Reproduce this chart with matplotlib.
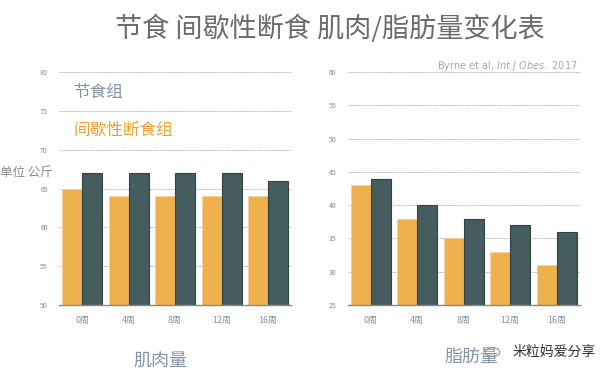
import matplotlib.pyplot as plt
import numpy as np

plt.rcParams['font.family'] = ['Noto Sans CJK SC', 'DejaVu Sans']

# data
weeks = ["0周", "4周", "8周", "12周", "16周"]
muscle_if = [65, 64, 64, 64, 64]      # 间歇性断食组
muscle_diet = [67, 67, 67, 67, 66]    # 节食组
fat_if = [43, 38, 35, 33, 31]
fat_diet = [44, 40, 38, 37, 36]

orange = "#EFB04E"
dark = "#455D5E"
tick_gray = "#8a8a8a"

fig = plt.figure(figsize=(6.11, 3.79), dpi=100)

def draw(ax, a, b, ylim, step):
    x = np.arange(len(weeks))
    w = 0.43
    ax.bar(x - w / 2, a, w, color=orange, edgecolor="#F5CFA0", linewidth=0.6, zorder=3)
    ax.bar(x + w / 2, b, w, color=dark, edgecolor="#2E4444", linewidth=0.8, zorder=3)
    ax.set_xlim(-0.5, len(weeks) - 0.5)
    ax.set_ylim(*ylim)
    ax.set_yticks(np.arange(ylim[0], ylim[1] + 1, step))
    ax.set_xticks(x)
    ax.set_xticklabels(weeks)
    ax.grid(axis="y", linestyle=(0, (1, 1.2)), color="#777777", linewidth=0.5, zorder=0)
    for s in ["top", "right", "left"]:
        ax.spines[s].set_visible(False)
    ax.spines["bottom"].set_color("#888888")
    ax.spines["bottom"].set_linewidth(1.0)
    ax.spines["bottom"].set_zorder(4)
    ax.tick_params(axis="y", length=0, labelsize=5, labelcolor=tick_gray, pad=8)
    ax.tick_params(axis="x", length=0, labelsize=6.5, labelcolor="#8593A6", pad=8)

ax1 = fig.add_axes([0.0966, 0.195, 0.380, 0.615])
draw(ax1, muscle_if, muscle_diet, (50, 80), 5)

ax2 = fig.add_axes([0.569, 0.195, 0.380, 0.615])
draw(ax2, fat_if, fat_diet, (25, 60), 5)

fig.text(0.54, 0.925, "节食 间歇性断食 肌肉/脂肪量变化表", ha="center", va="center",
         fontsize=19.5, color="#6b6b6b")
fig.text(0.12, 0.757, "节食组", ha="left", va="center", fontsize=12, color="#8593A6")
fig.text(0.12, 0.655, "间歇性断食组", ha="left", va="center", fontsize=12, color="#F0A030")
fig.text(0.0, 0.546, "单位 公斤", ha="left", va="center", fontsize=9, color="#8a8a8a")
fig.text(0.262, 0.047, "肌肉量", ha="center", va="center", fontsize=13, color="#8593A6")
fig.text(0.771, 0.058, "脂肪量", ha="center", va="center", fontsize=13, color="#8593A6")
fig.text(0.946, 0.826, "Byrne et al, $\\it{Int\\ J\\ Obes.}$ 2017", ha="right", va="center",
         fontsize=7, color="#a8a8a8", family="DejaVu Sans")
fig.text(0.975, 0.071, "米粒妈爱分享", ha="right", va="center", fontsize=10, color="#333333")
fig.patches.append(plt.Circle((0.806, 0.071), 0.012, transform=fig.transFigure,
                              fill=False, edgecolor="#999999", linewidth=0.8))

fig.savefig("out.png", dpi=100)
